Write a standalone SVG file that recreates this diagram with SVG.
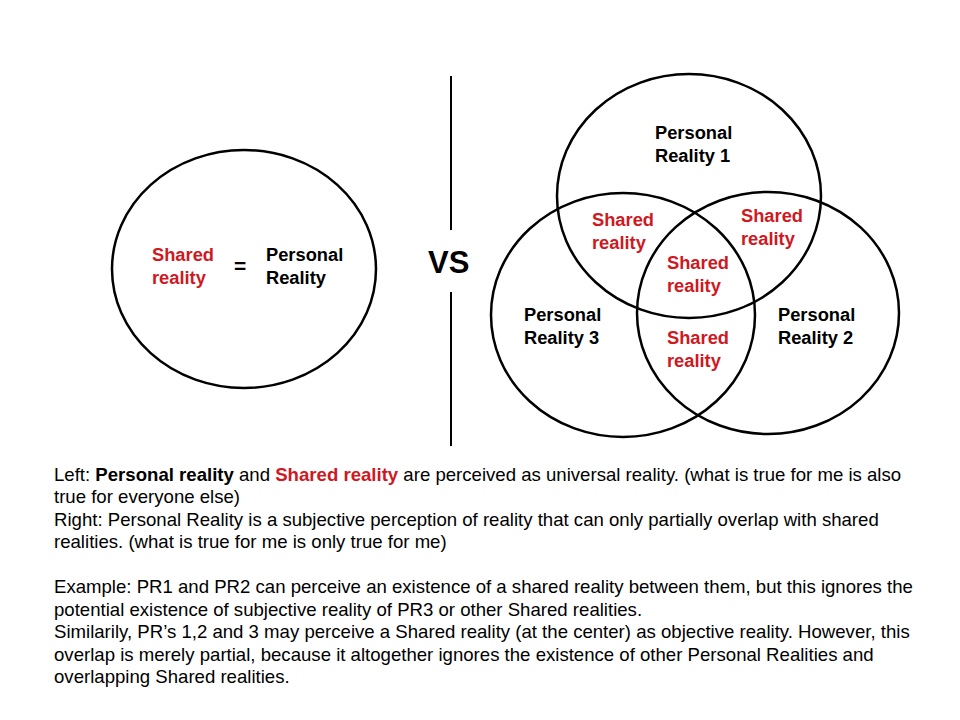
<svg xmlns="http://www.w3.org/2000/svg" width="960" height="720" viewBox="0 0 960 720">
<style>
.c{fill:none;stroke:#000;stroke-width:2.5}
.l{font-family:"Liberation Sans",Arial,sans-serif;font-size:18.3px;font-weight:bold;fill:#000}
.r{fill:#d0181f}
.b{font-family:"Liberation Sans",Arial,sans-serif;font-size:18.6px;fill:#000}
.vs{font-family:"Liberation Sans",Arial,sans-serif;font-size:31px;font-weight:bold;fill:#000}
</style>
<rect width="960" height="720" fill="#fff"/>
<g id="left">
<ellipse class="c" cx="244" cy="269" rx="132" ry="119"/>
<text class="l r" x="152" y="261">Shared</text>
<text class="l r" x="152" y="284">reality</text>
<text class="l" x="234" y="273" style="font-size:21px">=</text>
<text class="l" x="266" y="261">Personal</text>
<text class="l" x="266" y="284">Reality</text>
</g>
<g id="divider">
<line x1="451" y1="76" x2="451" y2="230" stroke="#000" stroke-width="2"/>
<line x1="451" y1="292" x2="451" y2="446" stroke="#000" stroke-width="2"/>
<text class="vs" x="428" y="273">VS</text>
</g>
<g id="pr1">
<ellipse class="c" cx="689" cy="196" rx="132" ry="122"/>
<text class="l" x="655" y="139">Personal</text>
<text class="l" x="655" y="162">Reality 1</text>
</g>
<g id="pr3">
<ellipse class="c" cx="623" cy="315" rx="132" ry="122"/>
<text class="l" x="524" y="321">Personal</text>
<text class="l" x="524" y="344">Reality 3</text>
</g>
<g id="pr2">
<ellipse class="c" cx="768" cy="313" rx="131" ry="121"/>
<text class="l" x="778" y="321">Personal</text>
<text class="l" x="778" y="344">Reality 2</text>
</g>
<g id="shared">
<text class="l r" x="592" y="226">Shared</text>
<text class="l r" x="592" y="249">reality</text>
<text class="l r" x="741" y="222">Shared</text>
<text class="l r" x="741" y="245">reality</text>
<text class="l r" x="667" y="269">Shared</text>
<text class="l r" x="667" y="292">reality</text>
<text class="l r" x="667" y="344">Shared</text>
<text class="l r" x="667" y="367">reality</text>
</g>
<g id="caption">
<text class="b" x="54" y="481">Left: <tspan font-weight="bold">Personal reality</tspan> and <tspan font-weight="bold" fill="#d0181f">Shared reality</tspan> are perceived as universal reality. (what is true for me is also</text>
<text class="b" x="54" y="503">true for everyone else)</text>
<text class="b" x="54" y="526">Right: Personal Reality is a subjective perception of reality that can only partially overlap with shared</text>
<text class="b" x="54" y="548">realities. (what is true for me is only true for me)</text>
<text class="b" x="54" y="593">Example: PR1 and PR2 can perceive an existence of a shared reality between them, but this ignores the</text>
<text class="b" x="54" y="616">potential existence of subjective reality of PR3 or other Shared realities.</text>
<text class="b" x="54" y="638">Similarily, PR’s 1,2 and 3 may perceive a Shared reality (at the center) as objective reality. However, this</text>
<text class="b" x="54" y="661">overlap is merely partial, because it altogether ignores the existence of other Personal Realities and</text>
<text class="b" x="54" y="683">overlapping Shared realities.</text>
</g>
</svg>
